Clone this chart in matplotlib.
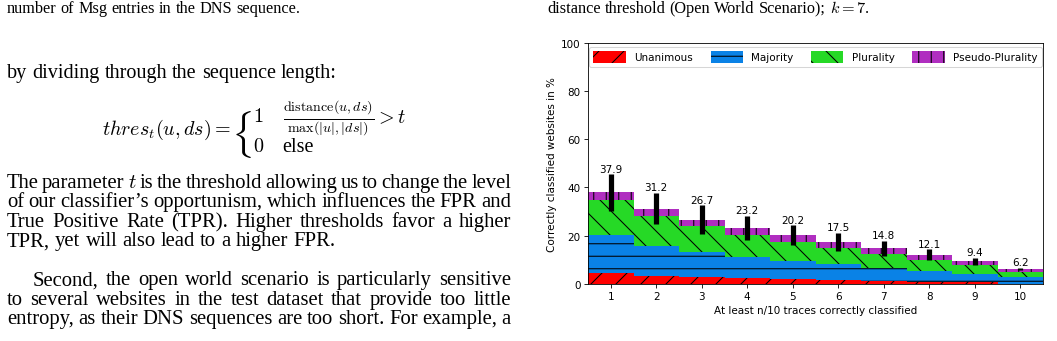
import numpy as np
import matplotlib
matplotlib.use("Agg")
import matplotlib.pyplot as plt

plt.rcParams["mathtext.fontset"] = "cm"

# n/10 traces correctly classified
positions = [1, 2, 3, 4, 5, 6, 7, 8, 9, 10]
unanimous = [4.6, 3.2, 2.8, 2.5, 2.2, 1.8, 1.4, 1.0, 0.8, 0.0]
majority = [15.8, 12.4, 10.4, 8.5, 7.3, 6.5, 5.2, 4.2, 3.3, 2.9]
plurality = [14.4, 12.7, 11.0, 9.3, 7.9, 6.6, 5.7, 4.6, 3.8, 2.1]
pseudo_plurality = [3.1, 2.9, 2.5, 2.9, 2.8, 2.6, 2.5, 2.3, 1.5, 1.2]
totals = [37.9, 31.2, 26.7, 23.2, 20.2, 17.5, 14.8, 12.1, 9.4, 6.2]
errors = [7.6, 6.5, 5.9, 5.0, 4.2, 3.7, 3.0, 2.2, 1.5, 0.5]

series_names = ["Unanimous", "Majority", "Plurality", "Pseudo-Plurality"]
series_colors = ["#ff0000", "#0a82e6", "#26d926", "#b02ec0"]
series_hatches = ["/", "-", "\\", "|"]

W, H, DPI = 1057, 342, 75
fig = plt.figure(figsize=(W / DPI, H / DPI), dpi=DPI)


def fx(x):
    return x / W


def fy(y):
    return 1 - y / H


# ---- chart ----
ax = fig.add_axes([fx(588), fy(285), fx(1043) - fx(588), fy(43.5) - fy(285)])
bottom = np.zeros(len(positions))
for vals, name, col, hat in zip([unanimous, majority, plurality, pseudo_plurality],
                                series_names, series_colors, series_hatches):
    ax.bar(positions, vals, width=1.0, bottom=bottom, color=col, hatch=hat,
           edgecolor="black", linewidth=0, label=name)
    bottom += np.array(vals)

ax.errorbar(positions, totals, yerr=errors, fmt="none", ecolor="black",
            elinewidth=5, capsize=0, zorder=5)
for x, t, e in zip(positions, totals, errors):
    ax.annotate(f"{t}", (x, t + e), xytext=(0, 0.5), textcoords="offset points",
                ha="center", va="bottom", fontsize=10)

ax.set_xlim(0.5, 10.5)
ax.set_ylim(0, 100)
ax.set_xticks(positions)
ax.set_yticks([0, 20, 40, 60, 80, 100])
ax.set_xlabel("At least n/10 traces correctly classified")
ax.set_ylabel("Correctly classified websites in %")
ax.legend(loc="upper center", ncol=4, handlelength=3.1, handleheight=1.4,
          handletextpad=0.8, columnspacing=1.7, borderaxespad=0.4)

# ---- surrounding page text ----
SERIF = "Liberation Serif"
BODY = 19.8
CAP = 15.6
renderer = fig.canvas.get_renderer()


def put_line(words, x0, x1, base, size, justify=True):
    if isinstance(words, str):
        words = words.split(" ")
    ts = [fig.text(0, fy(base), w, fontsize=size, family=SERIF, va="baseline")
          for w in words]
    ws = [t.get_window_extent(renderer).width for t in ts]
    if justify and len(ws) > 1:
        gap = (x1 - x0 - sum(ws)) / (len(ws) - 1)
    else:
        gap = 0.25 * size * DPI / 72
    x = x0
    for t, w in zip(ts, ws):
        t.set_x(fx(x))
        x += w + gap


put_line("number of Msg entries in the DNS sequence.", 7, 0, 13, CAP, justify=False)
put_line(["distance", "threshold", "(Open", "World", "Scenario);", "$k=7$."],
         547, 0, 13, CAP, justify=False)
put_line("by dividing through the sequence length:", 7, 0, 78, 19.3, justify=False)

para1 = ["The parameter $t$ is the threshold allowing us to change the level",
         "of our classifier\u2019s opportunism, which influences the FPR and",
         "True Positive Rate (TPR). Higher thresholds favor a higher",
         "TPR, yet will also lead to a higher FPR."]
para2 = ["Second, the open world scenario is particularly sensitive",
         "to several websites in the test dataset that provide too little",
         "entropy, as their DNS sequences are too short. For example, a"]
for i, line in enumerate(para1):
    put_line(line, 7, 511, 188 + 19.5 * i, BODY, justify=(i < len(para1) - 1))
for i, line in enumerate(para2):
    put_line(line, 33 if i == 0 else 7, 511, 285.5 + 19.5 * i, BODY)

# equation
fig.text(fx(102), fy(135), r"$thres_t(u, ds) =$", fontsize=19.3, va="baseline")
fig.text(fx(231), fy(134), r"$\{$", fontsize=38, va="center")
fig.text(fx(253), fy(122), r"$1$", fontsize=19.3, va="baseline")
fig.text(fx(283), fy(123), r"$\frac{\mathrm{distance}(u,ds)}{\max(|u|,|ds|)} > t$",
         fontsize=19.3, va="baseline")
fig.text(fx(253), fy(152), r"$0$", fontsize=19.3, va="baseline")
fig.text(fx(282), fy(152), "else", fontsize=19.3, family=SERIF, va="baseline")

fig.savefig("out.png", dpi=DPI)
